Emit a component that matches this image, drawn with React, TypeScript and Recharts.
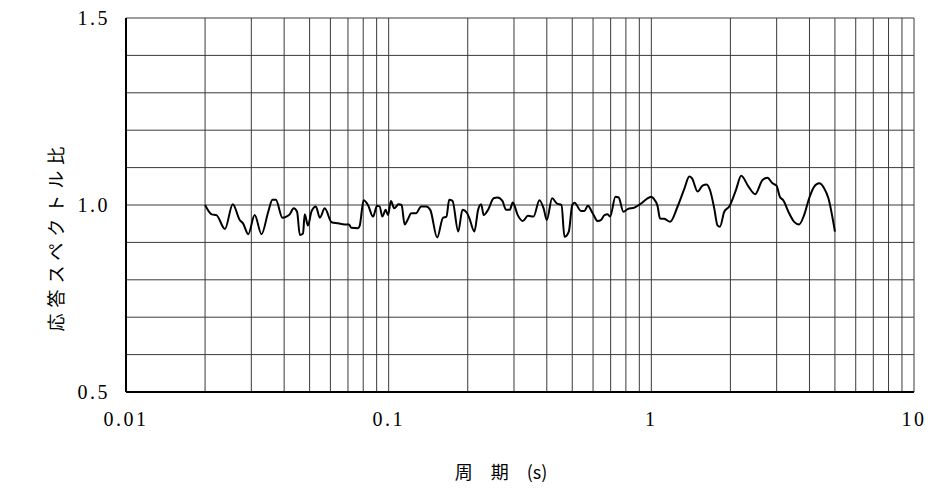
import { LineChart, Line, XAxis, YAxis, CartesianGrid } from "recharts";

// 周期 (s)
const periods = [
  0.02, 0.0212, 0.0221, 0.0238, 0.0255, 0.0271, 0.0279, 0.0292, 0.0309, 0.0328,
  0.0348, 0.0361, 0.0372, 0.0394, 0.0408, 0.042, 0.0435, 0.0448, 0.0459, 0.0472,
  0.0479, 0.0493, 0.0508, 0.0528, 0.0547, 0.0571, 0.0606, 0.0642, 0.068, 0.0706,
  0.0721, 0.0764, 0.0776, 0.0803, 0.0834, 0.0872, 0.0903, 0.0924, 0.0946, 0.0974,
  0.0994, 0.102, 0.105, 0.109, 0.112, 0.115, 0.118, 0.122, 0.127, 0.133,
  0.139, 0.144, 0.153, 0.161, 0.166, 0.17, 0.175, 0.184, 0.191, 0.199,
  0.203, 0.212, 0.219, 0.225, 0.23, 0.239, 0.251, 0.26, 0.271, 0.28,
  0.289, 0.297, 0.31, 0.324, 0.339, 0.356, 0.375, 0.389, 0.4, 0.419,
  0.437, 0.455, 0.467, 0.485, 0.5, 0.51, 0.54, 0.556, 0.573, 0.598,
  0.625, 0.644, 0.663, 0.682, 0.697, 0.73, 0.751, 0.783, 0.813, 0.862,
  0.914, 0.96, 1.0, 1.018, 1.057, 1.079, 1.121, 1.178, 1.259, 1.335,
  1.395, 1.429, 1.5, 1.567, 1.623, 1.672, 1.736, 1.787, 1.825, 1.895,
  1.98, 2.099, 2.199, 2.344, 2.485, 2.65, 2.768, 2.892, 2.995, 3.086,
  3.176, 3.347, 3.497, 3.653, 3.816, 3.989, 4.168, 4.354, 4.548, 4.722,
  5.0,
];

// 応答スペクトル比
const ratios = [
  1.0, 0.975, 0.973, 0.936, 1.002, 0.96, 0.951, 0.922, 0.973, 0.922,
  0.982, 1.014, 1.014, 0.966, 0.969, 0.975, 0.991, 0.982, 0.92, 0.924,
  0.975, 0.945, 0.982, 0.996, 0.966, 0.991, 0.954, 0.951, 0.948, 0.948,
  0.939, 0.938, 0.945, 1.013, 1.0, 0.969, 0.998, 0.996, 0.969, 0.987,
  0.973, 1.011, 0.991, 1.002, 1.0, 0.948, 0.96, 0.978, 0.978, 0.996,
  0.996, 0.987, 0.913, 0.966, 0.969, 1.014, 1.011, 0.929, 0.987, 0.978,
  0.964, 0.929, 0.987, 1.002, 0.973, 0.987, 1.018, 1.02, 1.011, 0.987,
  0.987, 1.007, 0.973, 0.957, 0.971, 0.969, 1.013, 0.991, 0.96, 1.018,
  1.004, 1.0, 0.915, 0.929, 1.0, 1.006, 0.984, 0.984, 0.998, 0.978,
  0.957, 0.96, 0.973, 0.975, 0.969, 1.022, 1.02, 0.982, 0.989, 0.993,
  1.004, 1.016, 1.022, 1.018, 0.996, 0.964, 0.963, 0.955, 0.996, 1.043,
  1.076, 1.071, 1.036, 1.052, 1.055, 1.04, 0.991, 0.945, 0.942, 0.982,
  0.996, 1.04, 1.078, 1.049, 1.029, 1.067, 1.073, 1.058, 1.052, 1.022,
  1.013, 0.978, 0.955, 0.948, 0.973, 1.018, 1.049, 1.058, 1.045, 1.018,
  0.929,
];

const xTicks = [
  0.01, 0.02, 0.03, 0.04, 0.05, 0.06, 0.07, 0.08, 0.09,
  0.1, 0.2, 0.3, 0.4, 0.5, 0.6, 0.7, 0.8, 0.9,
  1, 2, 3, 4, 5, 6, 7, 8, 9, 10,
];
const xLabelValues = [0.01, 0.1, 1, 10];
const xLabels = ["0.01", "0.1", "1", "10"];

const yTicks = [0.5, 0.6, 0.7, 0.8, 0.9, 1.0, 1.1, 1.2, 1.3, 1.4, 1.5];
const yLabelValues = [0.5, 1.0, 1.5];
const yLabels = ["0.5", "1.0", "1.5"];

const data = periods.map((p, i) => ({ period: p, ratio: ratios[i] }));

const serif = "'Liberation Serif', 'DejaVu Serif', serif";
const cjk = "'Noto Sans CJK JP', sans-serif";

// tick text drawn by hand so the size and spacing stick
function makeTick(values: number[], labels: string[], anchor: "middle" | "end") {
  return (props: any) => {
    const { x, y, payload } = props;
    const i = values.findIndex((d) => Math.abs(d - payload.value) < 1e-9);
    if (i < 0) return <g />;
    return (
      <text
        x={x}
        y={y}
        textAnchor={anchor}
        dominantBaseline={anchor === "end" ? "central" : "hanging"}
        fontFamily={serif}
        fontSize={20}
        letterSpacing={2.5}
        fill="#000"
      >
        {labels[i]}
      </text>
    );
  };
}

function YTitle() {
  return (
    <text
      x={55}
      y={236}
      transform="rotate(-90, 55, 236)"
      textAnchor="middle"
      dominantBaseline="central"
      fontFamily={cjk}
      fontSize={18}
      letterSpacing={6}
      fill="#000"
    >
      応答スペクトル比
    </text>
  );
}

function XTitle() {
  return (
    <text
      x={501}
      y={471}
      textAnchor="middle"
      dominantBaseline="central"
      fontFamily={cjk}
      fontSize={18}
      fill="#000"
    >
      周　期　(s)
    </text>
  );
}

export default function App() {
  return (
    <div style={{ position: "absolute", left: 0, top: 0, background: "#fff" }}>
      <LineChart
        width={932}
        height={495}
        data={data}
        margin={{ top: 18, right: 18, bottom: 43, left: 66 }}
      >
        <CartesianGrid stroke="#3a3a3a" strokeWidth={1} />
        <XAxis
          dataKey="period"
          type="number"
          scale="log"
          domain={[0.01, 10]}
          ticks={xTicks}
          interval={0}
          allowDataOverflow
          height={60}
          tickSize={0}
          tickMargin={20}
          tick={makeTick(xLabelValues, xLabels, "middle")}
          axisLine={{ stroke: "#000", strokeWidth: 2 }}
          label={<XTitle />}
        />
        <XAxis
          xAxisId="top"
          orientation="top"
          dataKey="period"
          type="number"
          scale="log"
          domain={[0.01, 10]}
          height={0}
          tick={false}
          tickLine={false}
          axisLine={{ stroke: "#000", strokeWidth: 2 }}
        />
        <YAxis
          type="number"
          domain={[0.5, 1.5]}
          ticks={yTicks}
          interval={0}
          width={60}
          tickSize={0}
          tickMargin={16}
          tick={makeTick(yLabelValues, yLabels, "end")}
          axisLine={{ stroke: "#000", strokeWidth: 2 }}
          label={<YTitle />}
        />
        <YAxis
          yAxisId="right"
          orientation="right"
          type="number"
          domain={[0.5, 1.5]}
          width={0}
          tick={false}
          tickLine={false}
          axisLine={{ stroke: "#000", strokeWidth: 2 }}
        />
        <Line
          type="monotone"
          dataKey="ratio"
          stroke="#000"
          strokeWidth={2}
          dot={false}
          isAnimationActive={false}
        />
      </LineChart>
    </div>
  );
}
